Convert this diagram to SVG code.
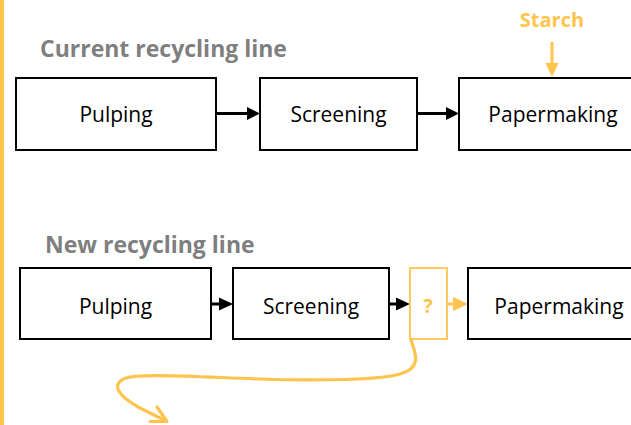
<svg xmlns="http://www.w3.org/2000/svg" width="631" height="425" viewBox="0 0 631 425">
  <defs>
    <style>
      .box { fill: #ffffff; stroke: #000000; stroke-width: 2; }
      .qbox { fill: #ffffff; stroke: #FFC44D; stroke-width: 1.8; }
      .lbl { font-family: "Open Sans", "Liberation Sans", sans-serif; font-size: 21px; fill: #000000; text-anchor: middle; }
      .title { font-family: "Open Sans", "Liberation Sans", sans-serif; font-size: 23px; font-weight: bold; fill: #7F7F7F; }
      .orange-t { font-family: "Open Sans", "Liberation Sans", sans-serif; font-weight: bold; fill: #FFC44D; text-anchor: middle; }
      .blk { stroke: #000000; stroke-width: 3; fill: none; }
      .org { stroke: #FFC44D; stroke-width: 3.2; fill: none; stroke-linecap: round; stroke-linejoin: round; }
    </style>
  </defs>
  <rect width="631" height="425" fill="#ffffff"/>
  <rect x="0" y="0" width="4" height="425" fill="#FFC44D"/>

  <text class="title" x="40" y="57">Current recycling line</text>
  <text class="title" x="45" y="253">New recycling line</text>

  <g id="connectors">
    <line class="blk" x1="217" y1="113.5" x2="248" y2="113.5"/>
    <polygon points="247,107 260,113.5 247,120" fill="#000"/>
    <line class="blk" x1="418" y1="113.5" x2="447" y2="113.5"/>
    <polygon points="446,107 459,113.5 446,120" fill="#000"/>
    <line x1="552" y1="42" x2="552" y2="64" stroke="#FFC44D" stroke-width="3"/>
    <polygon points="545.5,63 558.5,63 552,77" fill="#FFC44D"/>
    <line class="blk" x1="212" y1="304" x2="220" y2="304"/>
    <polygon points="219,297.5 233,304 219,310.5" fill="#000"/>
    <line class="blk" x1="390" y1="304" x2="397" y2="304"/>
    <polygon points="396,297.5 410,304 396,310.5" fill="#000"/>
    <line x1="448" y1="304" x2="455" y2="304" stroke="#FFC44D" stroke-width="3"/>
    <polygon points="453,297 468,304 453,311" fill="#FFC44D"/>
    <path class="org" d="M 411,340 C 415,352 423,368 400,374 C 380,380 320,381 260,379 C 200,377 140,373 126,378 C 110,384 118,396 140,408 L 166,421"/>
    <path class="org" d="M 157,407 L 167,421.5 L 150,421.5"/>
  </g>

  <g id="pulping1">
    <rect class="box" x="16" y="78" width="200" height="72"/>
    <text class="lbl" x="116" y="122">Pulping</text>
  </g>
  <g id="screening1">
    <rect class="box" x="260" y="78" width="157" height="72"/>
    <text class="lbl" x="338.5" y="122">Screening</text>
  </g>
  <g id="papermaking1">
    <rect class="box" x="459" y="78" width="188" height="72"/>
    <text class="lbl" x="553" y="122">Papermaking</text>
  </g>
  <g id="starch">
    <text class="orange-t" x="552" y="27" font-size="20">Starch</text>
  </g>

  <g id="pulping2">
    <rect class="box" x="20" y="268" width="191" height="71"/>
    <text class="lbl" x="115.5" y="314">Pulping</text>
  </g>
  <g id="screening2">
    <rect class="box" x="233" y="268" width="156" height="71"/>
    <text class="lbl" x="311" y="314">Screening</text>
  </g>
  <g id="unknown">
    <rect class="qbox" x="410" y="268" width="37" height="71"/>
    <text class="orange-t" x="428" y="313" font-size="20">?</text>
  </g>
  <g id="papermaking2">
    <rect class="box" x="468" y="268" width="182" height="71"/>
    <text class="lbl" x="559" y="314">Papermaking</text>
  </g>
</svg>
